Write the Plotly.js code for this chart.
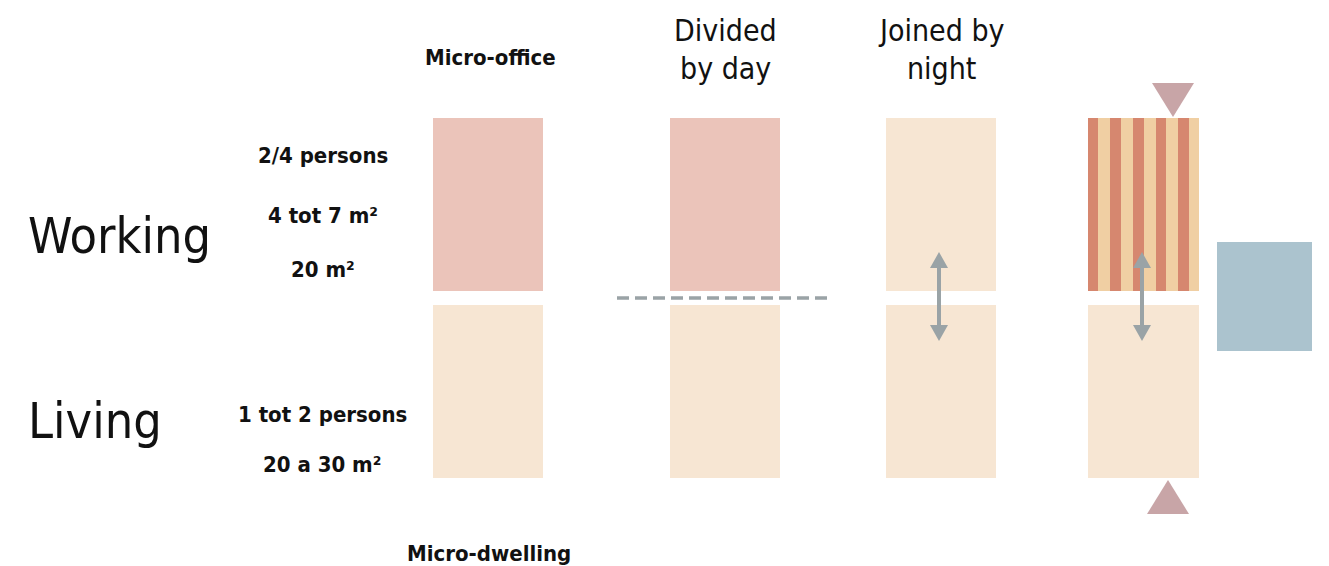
<!DOCTYPE html>
<html>
<head>
<meta charset="utf-8">
<script src="https://cdn.plot.ly/plotly-3.0.1.min.js"></script>
<style>html,body{margin:0;padding:0;background:#fff;}#chart{width:1329px;height:566px;}</style>
</head>
<body>
<div id="chart"></div>
<script>
// ---- content ----
const rowLabels = ['Working', 'Living'];
const headerLabels = ['Micro-office', 'Divided', 'by day', 'Joined by', 'night'];
const footerLabel = 'Micro-dwelling';
const workingFacts = ['2/4 persons', '4 tot 7 m²', '20 m²'];
const livingFacts = ['1 tot 2 persons', '20 a 30 m²'];

// ---- diagram geometry (pixel-like units on the hidden axes) ----
const colX0 = [433, 670, 886, 1088];
const colX1 = [543, 780, 996, 1199];
const topBlock = [118, 291];
const bottomBlock = [305, 478];
const topFill = ['#ebc4ba', '#ebc4ba', '#f7e6d3', null];
const stripeEdges = [1088, 1098, 1110, 1121, 1133, 1144, 1156, 1166, 1178, 1189, 1199];
const stripeColors = ['#d6876f', '#f0cfa3'];
const blueBox = {x0: 1217, x1: 1312, y0: 242, y1: 351};
const arrowX = [939, 1142];
const arrowY = [252, 341];
const dashLine = {x0: 617, x1: 832, y: 298};

const GREY = '#9aa3a6';
const shapes = [];

// blocks
colX0.forEach((x0, i) => {
  if (topFill[i]) {
    shapes.push({type: 'rect', xref: 'x', yref: 'y', x0: x0, x1: colX1[i], y0: topBlock[0], y1: topBlock[1],
      fillcolor: topFill[i], line: {width: 0}, layer: 'below'});
  }
  shapes.push({type: 'rect', xref: 'x', yref: 'y', x0: x0, x1: colX1[i], y0: bottomBlock[0], y1: bottomBlock[1],
    fillcolor: '#f7e6d3', line: {width: 0}, layer: 'below'});
});
// stripes
for (let i = 0; i < stripeEdges.length - 1; i++) {
  shapes.push({type: 'rect', xref: 'x', yref: 'y', x0: stripeEdges[i], x1: stripeEdges[i + 1],
    y0: topBlock[0], y1: topBlock[1], fillcolor: stripeColors[i % 2], line: {width: 0}, layer: 'below'});
}
// blue box
shapes.push({type: 'rect', xref: 'x', yref: 'y', x0: blueBox.x0, x1: blueBox.x1, y0: blueBox.y0, y1: blueBox.y1,
  fillcolor: '#abc3ce', line: {width: 0}, layer: 'below'});
// triangles
shapes.push({type: 'path', xref: 'x', yref: 'y', path: 'M1152,83 L1194,83 L1173,117 Z', fillcolor: '#c8a5a7', line: {width: 0}});
shapes.push({type: 'path', xref: 'x', yref: 'y', path: 'M1147,514 L1189,514 L1168,480 Z', fillcolor: '#c8a5a7', line: {width: 0}});
// dashed line
shapes.push({type: 'line', xref: 'x', yref: 'y', x0: dashLine.x0, x1: dashLine.x1, y0: dashLine.y, y1: dashLine.y,
  line: {color: GREY, width: 3.5, dash: '12px,6px'}});
// double arrows
arrowX.forEach(x => {
  shapes.push({type: 'line', xref: 'x', yref: 'y', x0: x, x1: x, y0: arrowY[0] + 12, y1: arrowY[1] - 12,
    line: {color: GREY, width: 4}});
  shapes.push({type: 'path', xref: 'x', yref: 'y',
    path: `M${x},${arrowY[0]} L${x + 9},${arrowY[0] + 16} L${x - 9},${arrowY[0] + 16} Z`, fillcolor: GREY, line: {width: 0}});
  shapes.push({type: 'path', xref: 'x', yref: 'y',
    path: `M${x},${arrowY[1]} L${x + 9},${arrowY[1] - 16} L${x - 9},${arrowY[1] - 16} Z`, fillcolor: GREY, line: {width: 0}});
});

const FONT = 'DejaVu Sans Condensed, Liberation Sans Narrow, sans-serif';
function ann(text, x, y, size, xanchor, weight) {
  return {text: text, x: x, y: y, xref: 'x', yref: 'y', showarrow: false, xanchor: xanchor || 'center', yanchor: 'middle',
    font: {family: FONT, size: size, color: '#111', weight: weight || 'normal'}};
}
const annotations = [
  ann(headerLabels[0], 490, 57, 22, 'center', 'bold'),
  ann(headerLabels[1], 725, 30, 30),
  ann(headerLabels[2], 725, 68, 30),
  ann(headerLabels[3], 941, 30, 30),
  ann(headerLabels[4], 941, 68, 30),
  ann(rowLabels[0], 26, 236, 50, 'left'),
  ann(rowLabels[1], 26, 421, 50, 'left'),
  ann(workingFacts[0], 323, 155, 22, 'center', 'bold'),
  ann(workingFacts[1], 323, 215, 22, 'center', 'bold'),
  ann(workingFacts[2], 323, 269, 22, 'center', 'bold'),
  ann(livingFacts[0], 322, 414, 22, 'center', 'bold'),
  ann(livingFacts[1], 322, 464, 22, 'center', 'bold'),
  ann(footerLabel, 489, 553, 22, 'center', 'bold')
];

const layout = {
  width: 1329, height: 566,
  margin: {l: 0, r: 0, t: 0, b: 0},
  paper_bgcolor: '#ffffff', plot_bgcolor: '#ffffff',
  xaxis: {range: [0, 1329], visible: false, fixedrange: true},
  yaxis: {range: [566, 0], visible: false, fixedrange: true},
  showlegend: false,
  shapes: shapes,
  annotations: annotations
};
Plotly.newPlot('chart', [{x: [], y: [], type: 'scatter', hoverinfo: 'skip'}], layout, {staticPlot: true, displayModeBar: false});
</script>
</body>
</html>
